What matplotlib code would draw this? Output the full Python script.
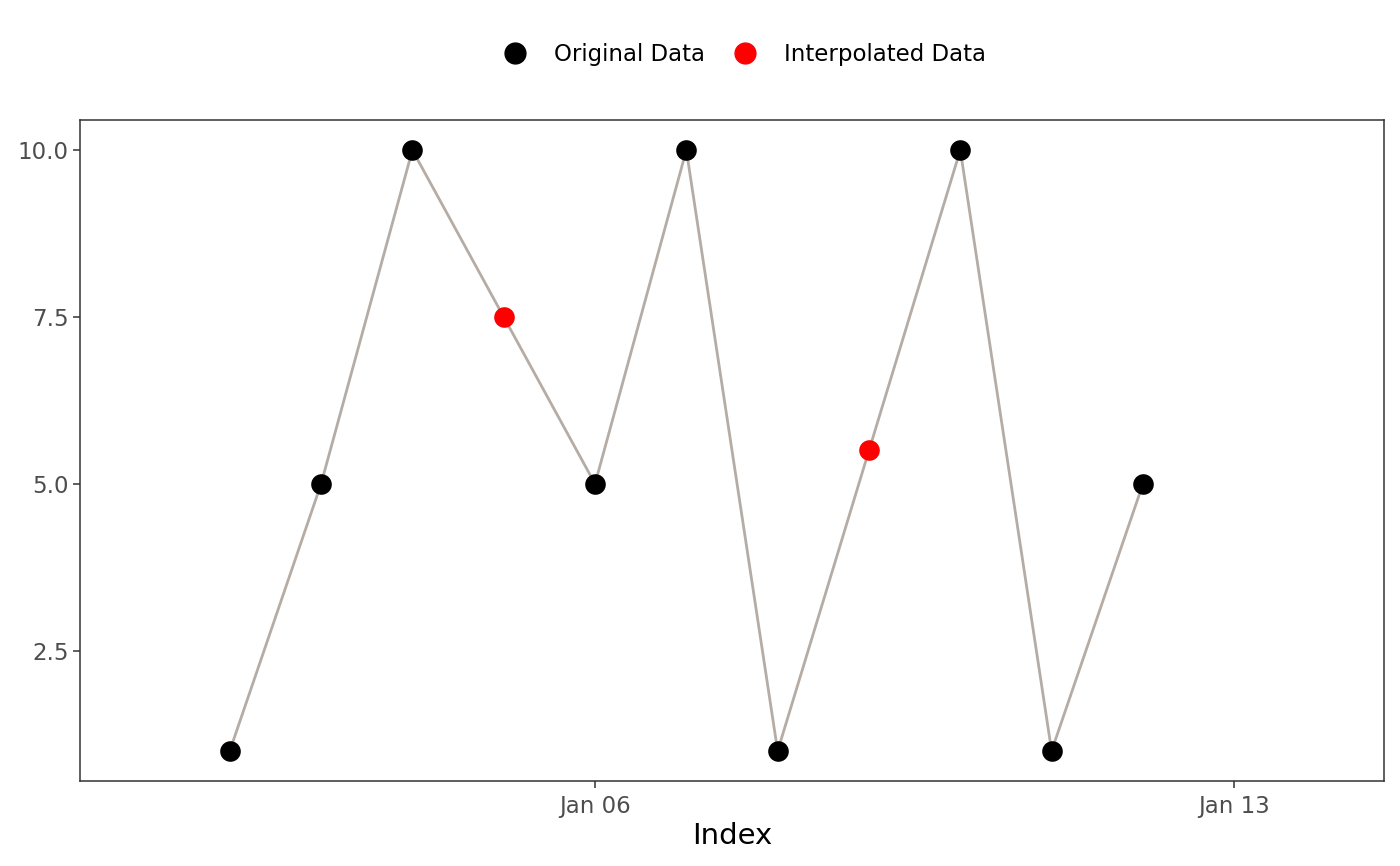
import datetime as dt
import matplotlib
matplotlib.use("Agg")
import matplotlib.pyplot as plt
import matplotlib.dates as mdates
from matplotlib.lines import Line2D

# data
dates = [dt.datetime(2024, 1, d) for d in range(2, 13)]
values = [1, 5, 10, 7.5, 5, 10, 1, 5.5, 10, 1, 5]
interpolated = [False, False, False, True, False, False, False, True, False, False, False]

tick_dates = [dt.datetime(2024, 1, 6), dt.datetime(2024, 1, 13)]
tick_labels = ["Jan 06", "Jan 13"]
y_ticks = [2.5, 5.0, 7.5, 10.0]

line_col = "#b5aca5"
grey_txt = "#4d4d4d"

fig = plt.figure(figsize=(14, 8.66), dpi=100)
ax = fig.add_axes([80 / 1400, 85 / 866, 1304 / 1400, 661 / 866])

ax.plot(dates, values, color=line_col, lw=2, zorder=1)

orig_x = [d for d, f in zip(dates, interpolated) if not f]
orig_y = [v for v, f in zip(values, interpolated) if not f]
int_x = [d for d, f in zip(dates, interpolated) if f]
int_y = [v for v, f in zip(values, interpolated) if f]
ax.scatter(orig_x, orig_y, s=220, color="black", zorder=3, linewidths=0)
ax.scatter(int_x, int_y, s=220, color="red", zorder=3, linewidths=0)

# axis limits (ggplot-style expansion)
ax.set_xlim(mdates.date2num(dt.datetime(2024, 1, 6)) - 5.64,
            mdates.date2num(dt.datetime(2024, 1, 13)) + 1.64)
ax.set_ylim(0.55, 10.45)

ax.set_xticks(mdates.date2num(tick_dates))
ax.set_xticklabels(tick_labels)
ax.set_yticks(y_ticks)
ax.set_yticklabels([f"{t:.1f}" for t in y_ticks])

ax.tick_params(axis="both", colors="#333333", labelcolor=grey_txt,
               labelsize=16.5, length=5, width=1.1, pad=3)
ax.tick_params(axis="x", pad=5)
for sp in ax.spines.values():
    sp.set_color("#333333")
    sp.set_linewidth(1.1)

ax.set_xlabel("Index", fontsize=21, labelpad=3)

handles = [
    Line2D([], [], marker="o", ls="", color="black", markersize=15),
    Line2D([], [], marker="o", ls="", color="red", markersize=15),
]
fig.legend(handles, ["Original Data", "Interpolated Data"],
           loc="center", bbox_to_anchor=(739 / 1400, 1 - 55 / 866),
           ncol=2, frameon=False, fontsize=16.5,
           handlelength=2, handletextpad=0.7, columnspacing=0.75)

fig.savefig("out.png", dpi=100)
